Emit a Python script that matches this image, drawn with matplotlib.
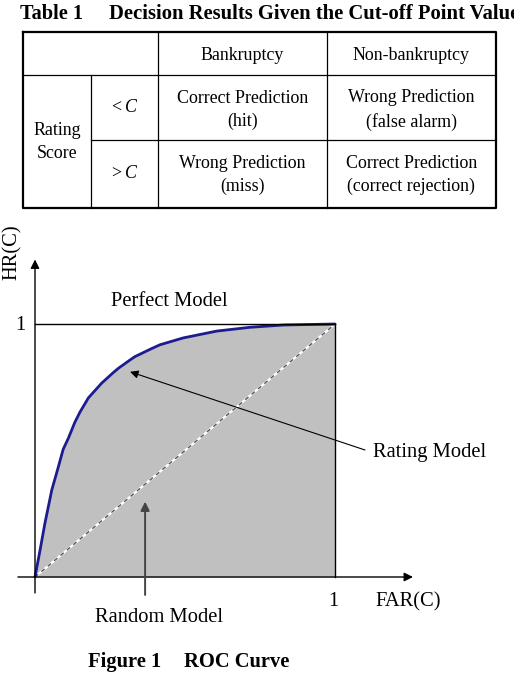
import numpy as np
import matplotlib.pyplot as plt

plt.rcParams['font.family'] = ['Liberation Serif', 'DejaVu Serif']
plt.rcParams['mathtext.fontset'] = 'custom'
plt.rcParams['mathtext.rm'] = 'Liberation Serif'
plt.rcParams['mathtext.it'] = 'Liberation Serif:italic'

# table content
table_title = 'Table 1'
table_caption = 'Decision Results Given the Cut-off Point Value'
col_headers = ['Bankruptcy', 'Non-bankruptcy']
row_group = 'Rating\nScore'
row_labels = ['$<C$', '$>C$']
cells = [['Correct Prediction\n(hit)', 'Wrong Prediction\n(false alarm)'],
         ['Wrong Prediction\n(miss)', 'Correct Prediction\n(correct rejection)']]

# ROC curve (FAR, HR)
far = [0, 0.017, 0.033, 0.056, 0.078, 0.094, 0.111, 0.133, 0.15, 0.178, 0.206,
       0.222, 0.261, 0.278, 0.317, 0.333, 0.389, 0.417, 0.494, 0.606, 0.717, 0.828, 1.0]
hr = [0, 0.107, 0.212, 0.344, 0.436, 0.505, 0.548, 0.612, 0.652, 0.708, 0.745,
      0.766, 0.808, 0.825, 0.858, 0.871, 0.903, 0.918, 0.945, 0.972, 0.987, 0.996, 1.0]

fig = plt.figure(figsize=(5.14, 6.81), dpi=100)

# page axes in pixel coords for the table
ax = fig.add_axes([0, 0, 1, 1])
ax.set_xlim(0, 514)
ax.set_ylim(681, 0)
ax.axis('off')

ax.text(20, 14, table_title, fontsize=14.6, fontweight='bold', va='center')
ax.text(109, 14, table_caption, fontsize=14.9, fontweight='bold', va='center')

xs = [22.7, 90.7, 158.3, 326.7, 495.7]
ys = [32.3, 75, 140, 208.3]
# outer border
ax.plot([xs[0], xs[-1], xs[-1], xs[0], xs[0]], [ys[0], ys[0], ys[-1], ys[-1], ys[0]],
        color='black', lw=1.6)
ax.plot([xs[0], xs[-1]], [ys[1], ys[1]], color='black', lw=0.9)
ax.plot([xs[1], xs[-1]], [ys[2], ys[2]], color='black', lw=0.9)
ax.plot([xs[1], xs[1]], [ys[1], ys[-1]], color='black', lw=0.9)
ax.plot([xs[2], xs[2]], [ys[0], ys[-1]], color='black', lw=0.9)
ax.plot([xs[3], xs[3]], [ys[0], ys[-1]], color='black', lw=0.9)

fs = 12.9
for j, h in enumerate(col_headers):
    ax.text((xs[j + 2] + xs[j + 3]) / 2, 55, h, fontsize=fs, ha='center', va='center')
ax.text(57, 142, row_group, fontsize=fs, ha='center', va='center', linespacing=1.5)
for i, lab in enumerate(row_labels):
    ax.text(124, [108, 173][i], lab, fontsize=fs, ha='center', va='center')
    for j in range(2):
        ax.text((xs[j + 2] + xs[j + 3]) / 2, [110, 175][i], cells[i][j], fontsize=fs,
                ha='center', va='center', linespacing=1.45)

# ROC axes: data (0,0) at px (35,577), (1,1) at px (335,324)
ax2 = fig.add_axes([35 / 514, (681 - 577) / 681, 300 / 514, 253 / 681])
ax2.set_xlim(0, 1)
ax2.set_ylim(0, 1)
ax2.axis('off')

ax2.fill_between(far, hr, 0, color='#c0c0c0', lw=0)
ax2.plot([0, 1], [0, 1], color='white', lw=1.6, clip_on=False)
ax2.plot([0, 1], [0, 1], color='#555555', lw=1.0, dashes=(3, 3), clip_on=False)
ax2.plot(far, hr, color='#1c1c8f', lw=2.0, clip_on=False, solid_capstyle='round',
         solid_joinstyle='round')
ax2.plot([0, 1], [1, 1], color='black', lw=1.0, clip_on=False)
ax2.plot([1, 1], [0, 1], color='black', lw=1.0, clip_on=False)

arrow = dict(arrowstyle='-|>', color='black', lw=1.0, mutation_scale=13, shrinkA=0, shrinkB=0)
ax2.annotate('', xy=(1.26, 0), xytext=(-0.057, 0), arrowprops=arrow, annotation_clip=False)
ax2.annotate('', xy=(0, 1.255), xytext=(0, -0.063), arrowprops=arrow, annotation_clip=False)

ax2.annotate('', xy=(0.317, 0.811), xytext=(1.1, 0.502), annotation_clip=False,
             arrowprops=dict(arrowstyle='-|>', color='black', lw=0.8, mutation_scale=12,
                             shrinkA=0, shrinkB=0))
ax2.annotate('', xy=(0.367, 0.298), xytext=(0.367, -0.071), annotation_clip=False,
             arrowprops=dict(arrowstyle='-|>', color='#444444', lw=1.4, mutation_scale=13,
                             shrinkA=0, shrinkB=0))

# labels of the ROC diagram (page pixel coords)
lfs = 14.8
ax.text(12, 252, 'HR(C)', fontsize=lfs, rotation=90, ha='center', va='center')
ax.text(169, 302, 'Perfect Model', fontsize=lfs, ha='center', va='center')
ax.text(20, 325, '1', fontsize=lfs, ha='center', va='center')
ax.text(430, 453, 'Rating Model', fontsize=lfs, ha='center', va='center')
ax.text(333, 602, '1', fontsize=lfs, ha='center', va='center')
ax.text(408, 602, 'FAR(C)', fontsize=lfs, ha='center', va='center')
ax.text(159, 617, 'Random Model', fontsize=lfs, ha='center', va='center')
ax.text(88, 662, 'Figure 1', fontsize=14.8, fontweight='bold', va='center')
ax.text(184, 662, 'ROC Curve', fontsize=14.8, fontweight='bold', va='center')

fig.savefig('out.png', dpi=100)
